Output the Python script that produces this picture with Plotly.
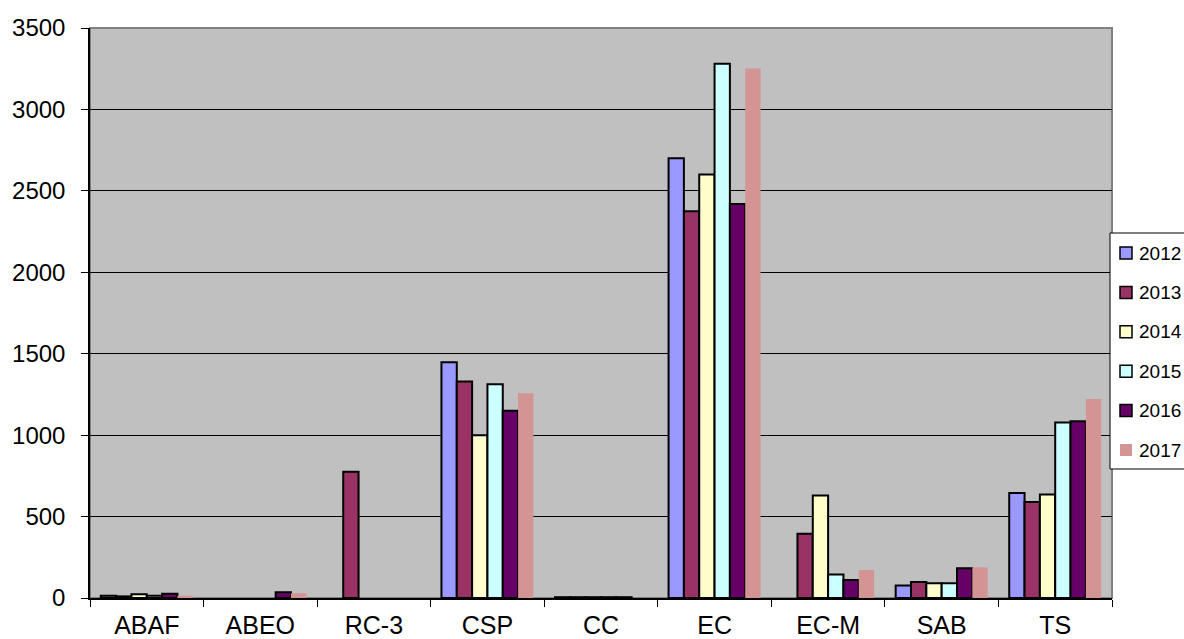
import plotly.graph_objects as go

# Categories along the x axis
categories = ["ABAF", "ABEO", "RC-3", "CSP", "CC", "EC", "EC-M", "SAB", "TS"]

# Yearly values per category (None = no bar)
v2012 = [14, None, None, 1447, 5, 2700, None, 76, 645]
v2013 = [10, None, 775, 1330, 5, 2375, 395, 98, 590]
v2014 = [23, None, None, 1000, 5, 2600, 630, 90, 635]
v2015 = [14, None, None, 1312, 5, 3280, 145, 90, 1078]
v2016 = [26, 35, None, 1150, 5, 2420, 110, 182, 1085]
v2017 = [14, 29, None, 1257, None, 3252, 172, 188, 1222]

years = ["2012", "2013", "2014", "2015", "2016", "2017"]
series = [v2012, v2013, v2014, v2015, v2016, v2017]
colors = ["#9999FF", "#993366", "#FFFFCC", "#CCFFFF", "#660066", "#D39494"]
outline = [2, 2, 2, 2, 2, 0]

FONT = "Arial, Liberation Sans, sans-serif"

W, H = 1184, 639
ML, MR, MT, MB = 90, 72, 28, 41
PW, PH = W - ML - MR, H - MT - MB


def px(x):
    # pixel column -> paper x
    return (x - ML) / PW


def py(y):
    # pixel row -> paper y
    return (H - MB - y) / PH


fig = go.Figure()
for name, vals, col, lw in zip(years, series, colors, outline):
    fig.add_trace(go.Bar(
        x=categories, y=vals, name=name, showlegend=False,
        marker=dict(color=col, line=dict(color="#000000", width=lw)),
    ))

# Plot-area frame
shapes = [dict(
    type="rect", xref="paper", yref="paper", x0=0, x1=1, y0=0, y1=1,
    line=dict(color="#808080", width=2), layer="below",
)]

# Legend box on the right edge, running past the page edge
shapes.append(dict(
    type="rect", xref="paper", yref="paper",
    x0=px(1110), x1=px(1230), y0=py(469), y1=py(233),
    fillcolor="#FFFFFF", line=dict(color="#000000", width=1), layer="above",
))
annotations = []
row_y = [253 + 39.4 * i for i in range(len(years))]
for name, col, lw, yc in zip(years, colors, outline, row_y):
    shapes.append(dict(
        type="rect", xref="paper", yref="paper",
        x0=px(1120), x1=px(1132), y0=py(yc + 6), y1=py(yc - 6),
        fillcolor=col, layer="above",
        line=dict(color="#000000", width=1.5 if lw else 0),
    ))
    annotations.append(dict(
        text=name, xref="paper", yref="paper", x=px(1137), y=py(yc),
        xanchor="left", yanchor="middle", showarrow=False,
        font=dict(family=FONT, size=19, color="#000000"),
    ))

fig.update_layout(
    width=W, height=H,
    margin=dict(l=ML, r=MR, t=MT, b=MB, autoexpand=False),
    paper_bgcolor="#FFFFFF",
    plot_bgcolor="#C0C0C0",
    barmode="group", bargap=0.19, bargroupgap=0,
    font=dict(family=FONT, size=24, color="#000000"),
    showlegend=False,
    xaxis=dict(
        showline=True, linecolor="#000000", linewidth=1.5,
        ticks="outside", ticklen=7, tickcolor="#000000",
        tickson="boundaries", showgrid=False,
        tickfont=dict(family=FONT, size=25, color="#000000"),
        ticklabelstandoff=4,
    ),
    yaxis=dict(
        range=[0, 3500], dtick=500, tick0=0,
        showline=True, linecolor="#000000", linewidth=1.5,
        ticks="outside", ticklen=7, tickcolor="#000000",
        showgrid=True, gridcolor="#000000", gridwidth=1.2,
        zeroline=False, ticklabelstandoff=11,
        tickfont=dict(family=FONT, size=24, color="#000000"),
    ),
    shapes=shapes,
    annotations=annotations,
)

fig.write_html("out.html")
